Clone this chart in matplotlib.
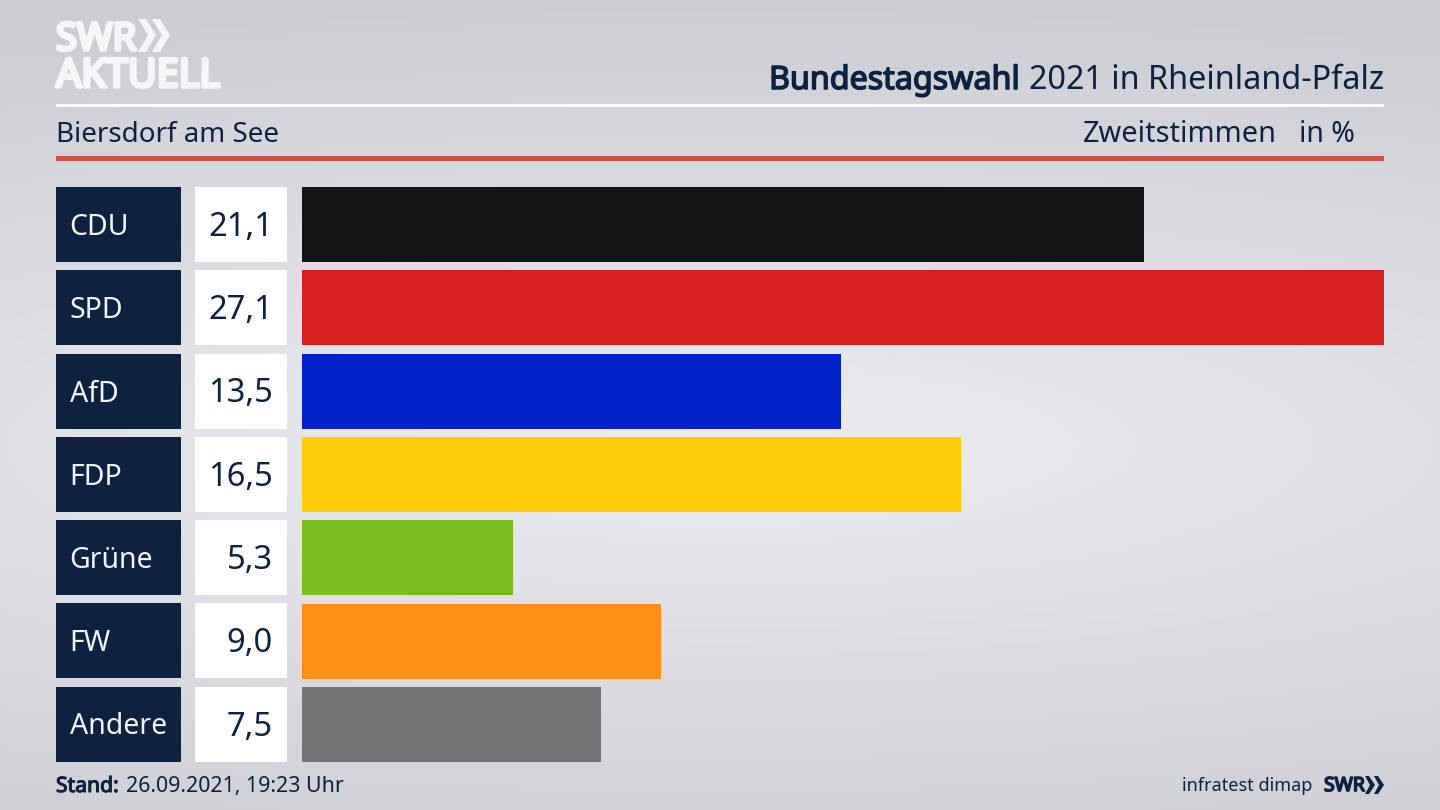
import numpy as np
import matplotlib
matplotlib.use('Agg')
import matplotlib.pyplot as plt
import matplotlib.patheffects as pe
from matplotlib.patches import Rectangle, Polygon

parties = ['CDU', 'SPD', 'AfD', 'FDP', 'Grüne', 'FW', 'Andere']
values = [21.1, 27.1, 13.5, 16.5, 5.3, 9.0, 7.5]
value_labels = ['21,1', '27,1', '13,5', '16,5', '5,3', '9,0', '7,5']
colors = ['#141414', '#d9201e', '#0022c8', '#ffcd0a', '#78bd1c', '#ff8e17', '#727375']

navy = '#0c2240'
plt.rcParams['font.family'] = ['Noto Sans', 'DejaVu Sans']

W, H = 1440, 810
fig = plt.figure(figsize=(W / 100, H / 100), dpi=100)

def fat(color, width):
    # no bold cut of the font here, so thicken with a stroke
    return [pe.withStroke(linewidth=width, foreground=color)]

# background, lighter in the middle
bg = fig.add_axes([0, 0, 1, 1], zorder=0)
yy, xx = np.mgrid[0:1:200j, 0:1:356j]
shade = np.clip(1 - np.sqrt(((yy - 0.55) / 0.55) ** 2 + ((xx - 0.5) / 1.3) ** 2), 0, 1)
grey = 0.8 + 0.125 * shade
bg.imshow(np.dstack([grey, grey + 0.005, grey + 0.025]).clip(0, 1), extent=[0, W, H, 0], aspect='auto')
bg.set_xlim(0, W)
bg.set_ylim(H, 0)
bg.axis('off')

# the bars
ax = fig.add_axes([301.5 / W, (H - 762) / H, 1082.5 / W, 575 / H], zorder=1)
ypos = np.arange(len(parties))
ax.barh(ypos, values, height=0.9, color=colors)
ax.set_xlim(0, 27.1)
ax.set_ylim(6.45, -0.45)
ax.axis('off')

# everything else in pixels
ov = fig.add_axes([0, 0, 1, 1], zorder=2)
ov.set_xlim(0, W)
ov.set_ylim(H, 0)
ov.axis('off')

for i in ypos:
    top = 187 + 83.25 * i
    ov.add_patch(Rectangle((56, top), 125, 75, color=navy, lw=0))
    ov.add_patch(Rectangle((195, top), 92, 75, color='white', lw=0))
    ov.text(69.5, top + 48, parties[i], color='#f2f4f7', fontsize=20.5, va='baseline', ha='left')
    ov.text(273, top + 49, value_labels[i], color=navy, fontsize=23.5, va='baseline', ha='right')

ov.add_patch(Rectangle((56, 104), 1328, 3, color='white', lw=0))
ov.add_patch(Rectangle((56, 155.5), 1328, 5, color='#c9533f', lw=0))

# logo
ov.text(56, 50, 'SWR', color='#f5f6f8', fontsize=27.5, va='baseline', ha='left',
        path_effects=fat('#f5f6f8', 2.6))
ov.text(56, 87, 'AKTUELL', color='#f5f6f8', fontsize=28.5, va='baseline', ha='left',
        path_effects=fat('#f5f6f8', 2.6))
for x0 in (138, 152):
    ov.add_patch(Polygon([(x0, 19), (x0 + 8, 19), (x0 + 18, 35), (x0 + 8, 52), (x0, 52), (x0 + 10, 35)],
                         color='#f5f6f8', lw=0))

# titles
ov.text(769, 89, 'Bundestagswahl', color=navy, fontsize=23.2, va='baseline', ha='left',
        path_effects=fat(navy, 1.1))
ov.text(1384, 89, '2021 in Rheinland-Pfalz', color=navy, fontsize=23.3, va='baseline', ha='right')
ov.text(56, 142, 'Biersdorf am See', color=navy, fontsize=20, va='baseline', ha='left')
ov.text(1277, 142, 'Zweitstimmen', color=navy, fontsize=20.8, va='baseline', ha='right')
ov.text(1355, 142, 'in %', color=navy, fontsize=20.5, va='baseline', ha='right')

# footer
ov.text(56, 792, 'Stand:', color=navy, fontsize=15.2, va='baseline', ha='left',
        path_effects=fat(navy, 0.8))
ov.text(126, 792, '26.09.2021, 19:23 Uhr', color=navy, fontsize=15.4, va='baseline', ha='left')
ov.text(1312, 791, 'infratest dimap', color=navy, fontsize=13, va='baseline', ha='right')
ov.text(1324, 791, 'SWR', color=navy, fontsize=14, va='baseline', ha='left',
        path_effects=fat(navy, 1.2))
for x0 in (1365, 1374):
    ov.add_patch(Polygon([(x0, 776), (x0 + 4, 776), (x0 + 10, 785), (x0 + 4, 794), (x0, 794), (x0 + 5, 785)],
                         color=navy, lw=0))

fig.savefig('out.png', dpi=100)
